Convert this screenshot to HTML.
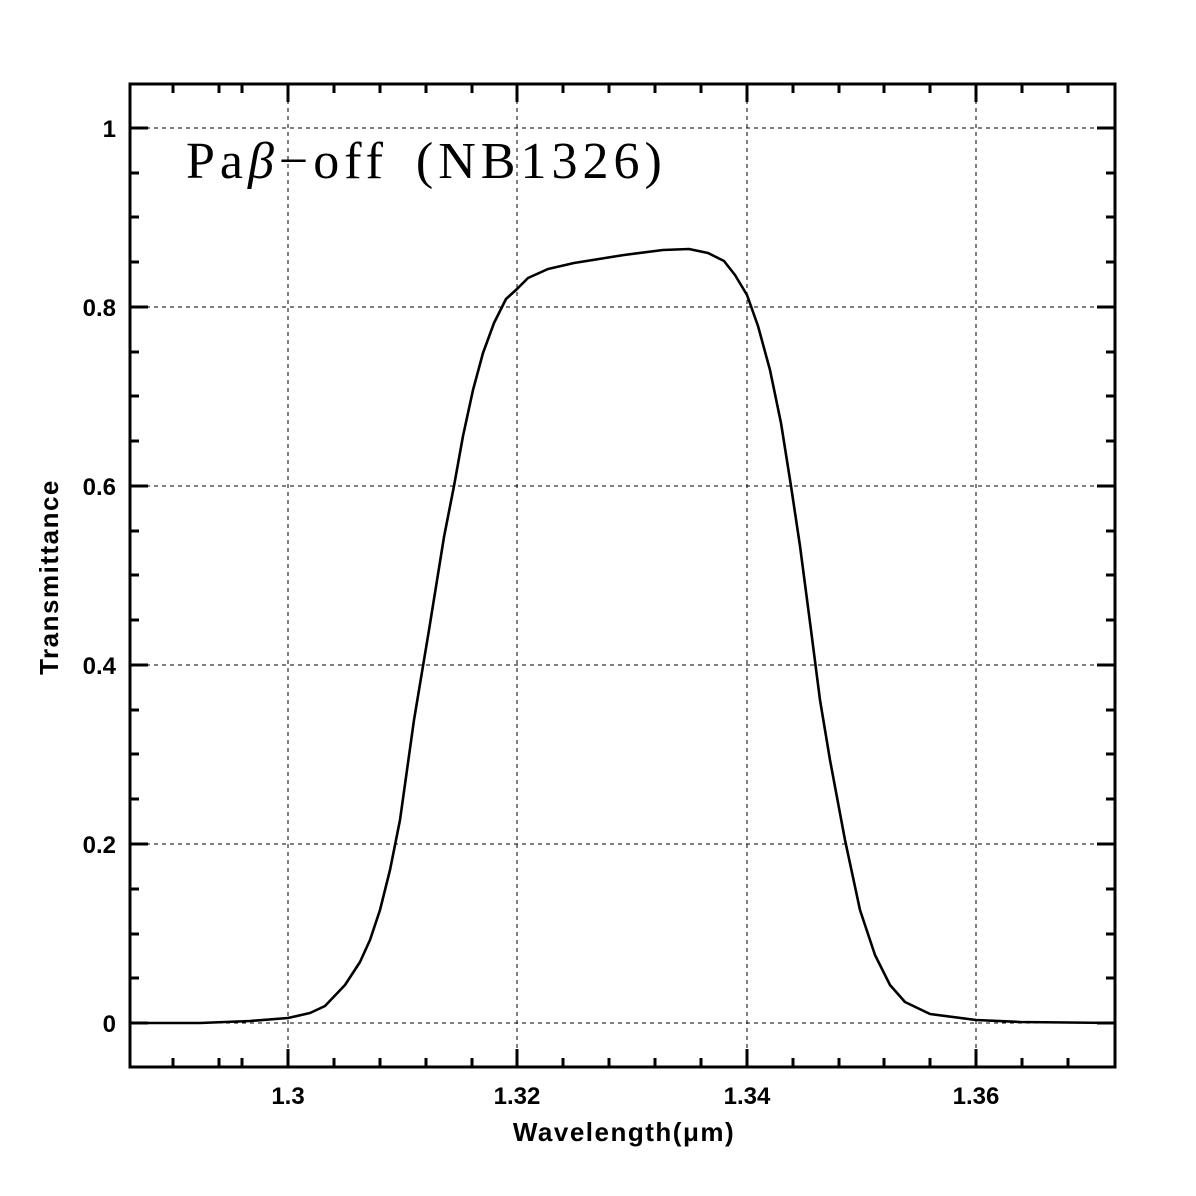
<!DOCTYPE html>
<html><head><meta charset="utf-8"><style>
html,body{margin:0;padding:0;background:#fff;}
svg{display:block;}
.t{font-family:"Liberation Sans",sans-serif;font-weight:bold;font-size:24px;fill:#000;}
</style></head><body>
<svg width="1196" height="1196" xmlns="http://www.w3.org/2000/svg">
<rect width="1196" height="1196" fill="#fff"/>
<g stroke="#000" stroke-width="1" stroke-dasharray="4,4">
<line x1="288" y1="84" x2="288" y2="1067"/>
<line x1="517" y1="84" x2="517" y2="1067"/>
<line x1="747" y1="84" x2="747" y2="1067"/>
<line x1="976" y1="84" x2="976" y2="1067"/>
<line x1="130" y1="128" x2="1115" y2="128"/>
<line x1="130" y1="307" x2="1115" y2="307"/>
<line x1="130" y1="486" x2="1115" y2="486"/>
<line x1="130" y1="665" x2="1115" y2="665"/>
<line x1="130" y1="844" x2="1115" y2="844"/>
<line x1="130" y1="1023" x2="1115" y2="1023"/>
</g>
<g stroke="#000" stroke-width="3">
<path d="M288 1067v-18M517 1067v-18M747 1067v-18M976 1067v-18M288 84v18M517 84v18M747 84v18M976 84v18"/>
<path d="M173 1067v-9M219 1067v-9M334 1067v-9M380 1067v-9M426 1067v-9M472 1067v-9M563 1067v-9M609 1067v-9M655 1067v-9M701 1067v-9M793 1067v-9M839 1067v-9M884 1067v-9M930 1067v-9M1022 1067v-9M1068 1067v-9
M173 84v9M219 84v9M334 84v9M380 84v9M426 84v9M472 84v9M563 84v9M609 84v9M655 84v9M701 84v9M793 84v9M839 84v9M884 84v9M930 84v9M1022 84v9M1068 84v9M242 84v9M242 1067v-9"/>
<path d="M130 128h18M130 307h18M130 486h18M130 665h18M130 844h18M130 1023h18M1115 128h-18M1115 307h-18M1115 486h-18M1115 665h-18M1115 844h-18M1115 1023h-18"/>
<path d="M130 173h9M130 217h9M130 262h9M130 352h9M130 396h9M130 441h9M130 531h9M130 575h9M130 620h9M130 710h9M130 754h9M130 799h9M130 889h9M130 934h9M130 978h9
M1115 173h-9M1115 217h-9M1115 262h-9M1115 352h-9M1115 396h-9M1115 441h-9M1115 531h-9M1115 575h-9M1115 620h-9M1115 710h-9M1115 754h-9M1115 799h-9M1115 889h-9M1115 934h-9M1115 978h-9"/>
<rect x="130" y="84" width="985" height="983" fill="none"/>
</g>
<polyline fill="none" stroke="#000" stroke-width="2.6" stroke-linejoin="round" points="130,1023 200,1023 250,1021 288,1018 310,1013 325,1006 345,985 360,962 370,940 380,910 390,870 400,820 414,720 429,630 444,537 454,486 463,436 473,390 483,353 494,323 506,299 517,289 528,278 548,269 574,263 624,255 663,250 689,249 708,253 724,261 735,275 747,295 758,326 770,370 781,423 791,486 800,546 811,630 820,700 830,760 845,840 860,910 875,955 890,985 905,1002 930,1014 976,1020 1020,1022 1115,1023"/>
<g class="t">
<text x="288" y="1104" text-anchor="middle">1.3</text>
<text x="517" y="1104" text-anchor="middle">1.32</text>
<text x="747" y="1104" text-anchor="middle">1.34</text>
<text x="976" y="1104" text-anchor="middle">1.36</text>
<text x="116" y="137" text-anchor="end">1</text>
<text x="116" y="316" text-anchor="end">0.8</text>
<text x="116" y="495" text-anchor="end">0.6</text>
<text x="116" y="674" text-anchor="end">0.4</text>
<text x="116" y="853" text-anchor="end">0.2</text>
<text x="116" y="1032" text-anchor="end">0</text>
<text x="624" y="1141" text-anchor="middle" font-size="26" letter-spacing="1.5">Wavelength(μm)</text>
<text transform="translate(58,577) rotate(-90)" text-anchor="middle" font-size="26" letter-spacing="1.5">Transmittance</text>
</g>
<text x="186" y="178" font-family="'Liberation Serif',serif" font-size="52" letter-spacing="5" word-spacing="10" fill="#000">Pa<tspan font-style="italic">β</tspan>−off (NB1326)</text>
</svg>
</body></html>
